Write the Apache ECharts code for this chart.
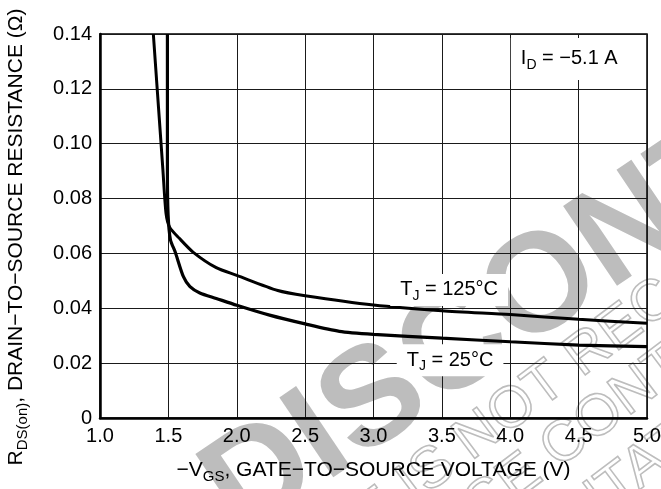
<!DOCTYPE html>
<html><head><meta charset="utf-8">
<script src="https://cdn.jsdelivr.net/npm/echarts@6/dist/echarts.min.js"></script>
<style>html,body{margin:0;padding:0;background:#fff}#c{width:661px;height:489px}</style>
</head><body><div id="c"></div>
<script>
// ---- data ----
const vgs125 = [1.39, 1.46, 1.483, 1.51, 1.58, 1.68, 1.85, 2.0, 2.3, 2.5, 3.0, 3.5, 4.0, 4.5, 5.0];
const rds125 = [0.140, 0.0905, 0.0745, 0.0695, 0.0655, 0.0605, 0.0548, 0.0520, 0.0465, 0.0446, 0.0412, 0.0391, 0.0377, 0.0360, 0.0345];
const vgs25 = [1.493, 1.493, 1.498, 1.515, 1.55, 1.61, 1.658, 1.73, 1.85, 2.0, 2.24, 2.5, 2.75, 3.0, 3.5, 4.0, 4.5, 5.0];
const rds25 = [0.140, 0.090, 0.074, 0.065, 0.0605, 0.0515, 0.0479, 0.0456, 0.0436, 0.0411, 0.0375, 0.0343, 0.0316, 0.0305, 0.0291, 0.0278, 0.0266, 0.0260];
const xMin = 1.0, xMax = 5.0, xStep = 0.5;
const yMin = 0, yMax = 0.14, yStep = 0.02;
const label125 = ['T', 'J', ' = 125°C'];
const label25 = ['T', 'J', ' = 25°C'];
const labelId = ['I', 'D', ' = −5.1 A'];
const xTitle = ['−V', 'GS', ', GATE−TO−SOURCE VOLTAGE (V)'];
const yTitle = ['R', 'DS(on)', ', DRAIN−TO−SOURCE RESISTANCE (Ω)'];
const watermark = 'DISCONTINUED';
const notice = ['THIS DEVICE IS NOT RECOMMENDED FOR NEW DESIGN.', 'PLEASE CONTACT YOUR ON SEMICONDUCTOR', 'REPRESENTATIVE FOR INFORMATION'];

const FONT = '"Liberation Sans", Arial, Helvetica, sans-serif';
const zip = (a, b) => a.map((v, i) => [v, b[i]]);
const rich3 = (p) => '{m|' + p[0] + '}{s|' + p[1] + '}{m|' + p[2] + '}';
const richStyle = (fs, ss) => ({
  m: { fontSize: fs, fontFamily: FONT, color: '#000', lineHeight: fs + 6 },
  s: { fontSize: ss, fontFamily: FONT, color: '#000', lineHeight: ss, verticalAlign: 'bottom' }
});

const chart = echarts.init(document.getElementById('c'));
const deg = Math.PI / 180;
const wmStyle = { fill: '#bdbdbd', align: 'left', verticalAlign: 'middle', textAlign: 'left', textVerticalAlign: 'middle' };
const outline = (t) => ({ text: t, font: '58px ' + FONT, fill: 'transparent', stroke: '#bdbdbd', lineWidth: 1.6, align: 'left', verticalAlign: 'middle' });

function annot(coord, parts, pad) {
  return {
    coord: coord, symbol: 'circle', symbolSize: 0,
    label: {
      show: true, position: 'inside', formatter: rich3(parts),
      backgroundColor: '#fff', padding: pad, rich: richStyle(20, 14)
    }
  };
}

chart.setOption({
  animation: false,
  backgroundColor: '#fff',
  grid: { left: 100, right: 14, top: 34, bottom: 71, show: true, borderColor: '#000', borderWidth: 1.5,
          containLabel: false, outerBoundsMode: 'none' },
  xAxis: {
    type: 'value', min: xMin, max: xMax, interval: xStep,
    axisLine: { show: true, onZero: false, lineStyle: { color: '#000', width: 2.5 } },
    axisTick: { show: false },
    splitLine: { show: true, lineStyle: { color: '#1a1a1a', width: 1 } },
    axisLabel: { formatter: v => v.toFixed(1), fontSize: 20, fontFamily: FONT, color: '#000', margin: 8 },
    name: rich3(xTitle), nameLocation: 'middle', nameGap: 39,
    nameTextStyle: { rich: richStyle(21, 15) }
  },
  yAxis: {
    type: 'value', min: yMin, max: yMax, interval: yStep,
    axisLine: { show: true, onZero: false, lineStyle: { color: '#000', width: 2.5 } },
    axisTick: { show: false },
    splitLine: { show: true, lineStyle: { color: '#1a1a1a', width: 1 } },
    axisLabel: { formatter: v => (v === 0 ? '0' : v.toFixed(2)), fontSize: 20, fontFamily: FONT, color: '#000', margin: 8 },
    name: rich3(yTitle), nameLocation: 'middle', nameGap: 70, nameRotate: 90,
    nameTextStyle: { rich: richStyle(21, 15), padding: [0, 22, 0, 0] }
  },
  graphic: [
    { type: 'text', x: 220, y: 507, rotation: 34 * deg, z: -100, silent: true,
      style: Object.assign({ text: watermark, font: 'bold 140px ' + FONT }, wmStyle) },
    { type: 'text', x: 101, y: 720, rotation: 37 * deg, z: -100, silent: true, style: outline(notice[0]) },
    { type: 'text', x: 355, y: 602, rotation: 37 * deg, z: -100, silent: true, style: outline(notice[1]) },
    { type: 'text', x: 350, y: 688, rotation: 37 * deg, z: -100, silent: true, style: outline(notice[2]) }
  ],
  series: [
    {
      name: 'TJ = 125°C', type: 'line', data: zip(vgs125, rds125), smooth: 0.25,
      symbol: 'none', lineStyle: { color: '#000', width: 3 }, z: 3,
      markPoint: { silent: true, data: [annot([3.553, 0.0467], label125, [3, 10, 3, 10]), annot([4.446, 0.1309], labelId, [8, 14, 8, 10])] }
    },
    {
      name: 'TJ = 25°C', type: 'line', data: zip(vgs25, rds25), smooth: 0.25,
      symbol: 'none', lineStyle: { color: '#000', width: 3.2 }, z: 3,
      markPoint: { silent: true, data: [annot([3.56, 0.0211], label25, [3, 10, 3, 10])] }
    }
  ]
});
</script></body></html>
